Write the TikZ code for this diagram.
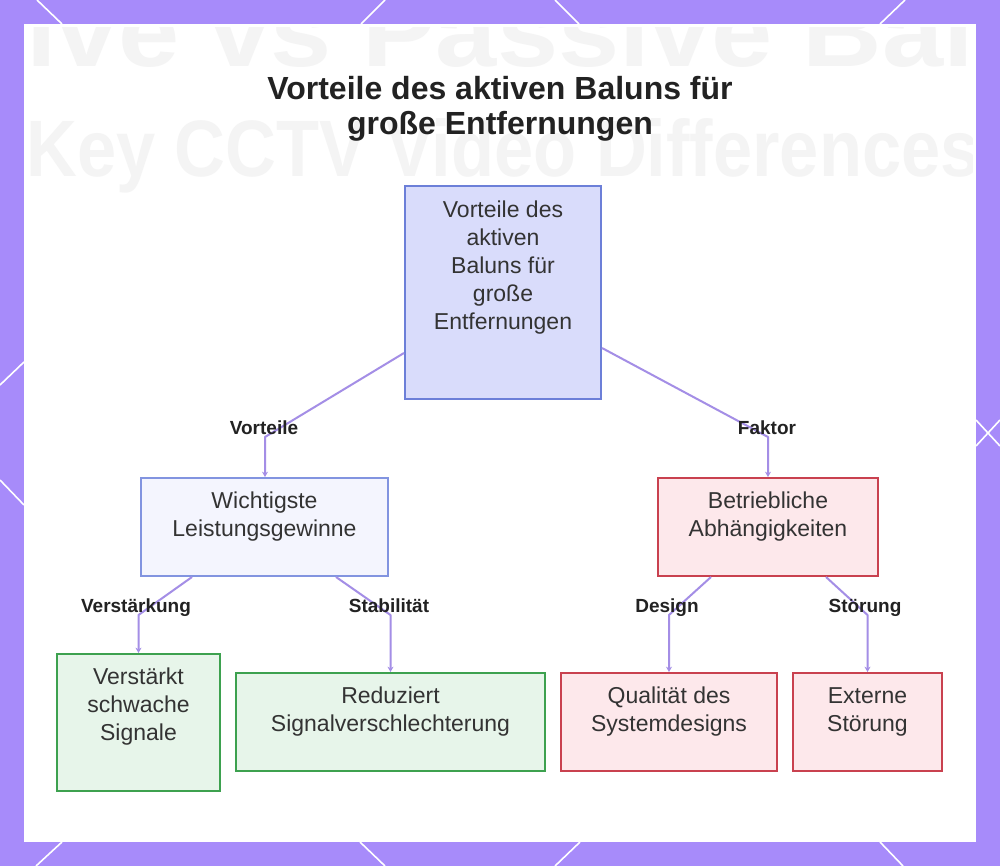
\documentclass[tikz,border=0pt]{standalone}
\usepackage{fontspec}
\setmainfont{Liberation Sans}
\usetikzlibrary{arrows.meta,calc}
\definecolor{frame}{HTML}{A78BFA}
\definecolor{conn}{HTML}{A48EE6}
\definecolor{txt}{HTML}{333333}
\definecolor{ttl}{HTML}{222222}
\definecolor{bgtxt}{HTML}{F4F4F4}
\definecolor{rootfill}{HTML}{D9DCFB}
\definecolor{rootdraw}{HTML}{6C7FD8}
\definecolor{bluefill}{HTML}{F4F5FE}
\definecolor{bluedraw}{HTML}{8294E0}
\definecolor{redfill}{HTML}{FDE8EB}
\definecolor{reddraw}{HTML}{C9414F}
\definecolor{greenfill}{HTML}{E7F5EA}
\definecolor{greendraw}{HTML}{3DA14F}
\begin{document}
\begin{tikzpicture}[x=0.75pt,y=-0.75pt,
  box/.style={draw, line width=1.5pt, inner sep=0pt},
  rootbox/.style={box, fill=rootfill, draw=rootdraw},
  bluebox/.style={box, fill=bluefill, draw=bluedraw},
  redbox/.style={box, fill=redfill, draw=reddraw},
  greenbox/.style={box, fill=greenfill, draw=greendraw},
  btxt/.style={font=\fontsize{17.25}{21}\selectfont, align=center, inner sep=0pt, text=txt, anchor=north},
  lbl/.style={font=\bfseries\fontsize{14.25}{17}\selectfont, inner sep=0pt, text=ttl, anchor=base},
  conline/.style={draw=conn, line width=1.5pt, line join=round, -{Stealth[length=4pt,width=4.5pt]}},
  deco/.style={draw=white, line width=1.2pt}
]
\useasboundingbox (0,0) rectangle (1000,866);
% frame
\fill[frame] (0,0) rectangle (1000,866);
\fill[white] (24,24) rectangle (976,842);
% decorative lines on frame
\draw[deco] (37,0) -- (62,24);
\draw[deco] (385,0) -- (361,24);
\draw[deco] (555,0) -- (579,24);
\draw[deco] (905,0) -- (880,24);
\draw[deco] (36,866) -- (62,842);
\draw[deco] (385,866) -- (360,842);
\draw[deco] (555,866) -- (580,842);
\draw[deco] (903,866) -- (880,842);
\draw[deco] (0,385) -- (24,362);
\draw[deco] (0,480) -- (24,505);
\draw[deco] (976,420) -- (1000,446);
\draw[deco] (976,446) -- (1000,420);
% faint background text
\begin{scope}
\clip (28,28) rectangle (972,842);
\node[anchor=base west, inner sep=0pt, text=bgtxt, font=\bfseries\fontsize{75}{80}\selectfont, xscale=1.1] (bg1) at (26,67) {ive vs Passive Bal};
\node[anchor=base west, inner sep=0pt, text=bgtxt, font=\bfseries\fontsize{60}{66}\selectfont, xscale=0.88] (bg2) at (26,177) {Key CCTV Video Differences};
\end{scope}
% title
\node[anchor=north, align=center, inner sep=0pt, text=ttl, font=\bfseries\fontsize{24}{26.25}\selectfont] (title) at (500,76) {Vorteile des aktiven Baluns für\\große Entfernungen};
% boxes
\node[rootbox, minimum width=196*0.75pt, minimum height=213*0.75pt] (root) at (503,292.5) {};
\node[bluebox, minimum width=247*0.75pt, minimum height=98*0.75pt] (wich) at (264.5,527) {};
\node[redbox, minimum width=220*0.75pt, minimum height=98*0.75pt] (betr) at (768,527) {};
\node[greenbox, minimum width=163*0.75pt, minimum height=137*0.75pt] (verst) at (138.5,722.5) {};
\node[greenbox, minimum width=309*0.75pt, minimum height=98*0.75pt] (red) at (390.5,722) {};
\node[redbox, minimum width=216*0.75pt, minimum height=98*0.75pt] (qual) at (669,722) {};
\node[redbox, minimum width=149*0.75pt, minimum height=98*0.75pt] (ext) at (867.5,722) {};
% box texts
\node[btxt] (rootT) at ($(root.north)+(0,15.5)$) {Vorteile des\\aktiven\\Baluns für\\große\\Entfernungen};
\node[btxt] (wichT) at ($(wich.north)+(0,15)$) {Wichtigste\\Leistungsgewinne};
\node[btxt] (betrT) at ($(betr.north)+(0,15)$) {Betriebliche\\Abhängigkeiten};
\node[btxt] (verstT) at ($(verst.north)+(0,15)$) {Verstärkt\\schwache\\Signale};
\node[btxt] (redT) at ($(red.north)+(0,15)$) {Reduziert\\Signalverschlechterung};
\node[btxt] (qualT) at ($(qual.north)+(0,15)$) {Qualität des\\Systemdesigns};
\node[btxt] (extT) at ($(ext.north)+(0,15)$) {Externe\\Störung};
% connector coordinates
\coordinate (s1) at ($(root.south west)+(0,-47)$);
\coordinate (b1) at (265,437);
\coordinate (s2) at ($(root.south east)+(0,-52)$);
\coordinate (b2) at (768,437);
\coordinate (s3) at ($(wich.south west)+(52,0)$);
\coordinate (b3) at (138.5,615);
\coordinate (s4) at ($(wich.south east)+(-53,0)$);
\coordinate (b4) at (390.5,615);
\coordinate (s5) at ($(betr.south west)+(54,0)$);
\coordinate (b5) at (669,615);
\coordinate (s6) at ($(betr.south east)+(-53,0)$);
\coordinate (b6) at (867.5,615);
% connectors
\draw[conline] (s1) -- (b1) -- (b1 |- wich.north);
\draw[conline] (s2) -- (b2) -- (b2 |- betr.north);
\draw[conline] (s3) -- (b3) -- (b3 |- verst.north);
\draw[conline] (s4) -- (b4) -- (b4 |- red.north);
\draw[conline] (s5) -- (b5) -- (b5 |- qual.north);
\draw[conline] (s6) -- (b6) -- (b6 |- ext.north);
% labels
\node[lbl] (l1) at (264,435) {Vorteile};
\node[lbl] (l2) at (767,435) {Faktor};
\node[lbl] (l3) at (136,612) {Verstärkung};
\node[lbl] (l4) at (389,612) {Stabilität};
\node[lbl] (l5) at (667,612) {Design};
\node[lbl] (l6) at (865,612) {Störung};
\end{tikzpicture}
\end{document}
